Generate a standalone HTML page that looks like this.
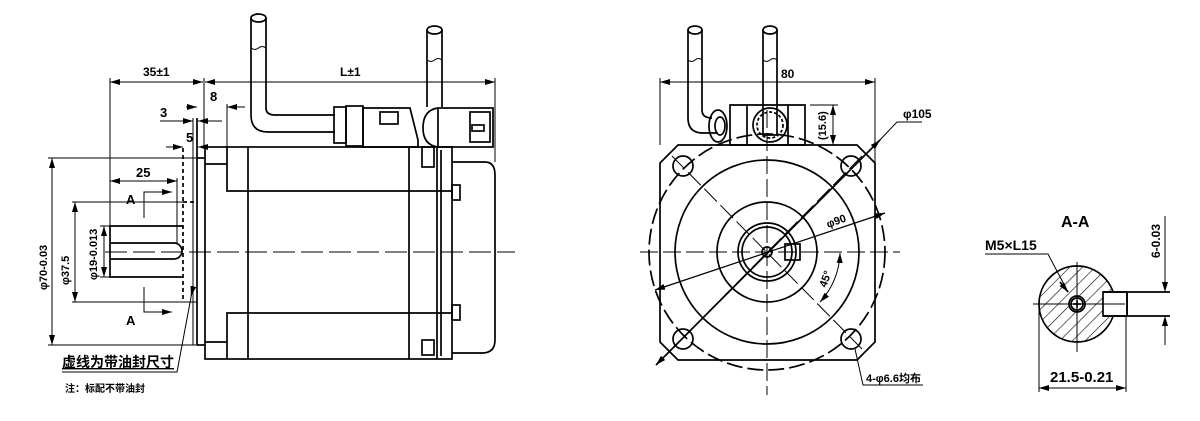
<!DOCTYPE html>
<html><head><meta charset="utf-8"><style>
html,body{margin:0;padding:0;background:#fff;}
svg{display:block;}
text{font-family:"Liberation Sans","Noto Sans CJK SC",sans-serif;font-weight:bold;fill:#000;}
</style></head><body>
<svg width="1200" height="421" viewBox="0 0 1200 421" xmlns="http://www.w3.org/2000/svg">
<defs>
<marker id="a" viewBox="0 0 10 6" refX="10" refY="3" markerWidth="10" markerHeight="6" orient="auto-start-reverse" markerUnits="userSpaceOnUse"><path d="M0,0L10,3L0,6z" fill="#000"/></marker>
<pattern id="h" width="9" height="9" patternUnits="userSpaceOnUse" patternTransform="rotate(45)"><line x1="0" y1="0" x2="0" y2="9" stroke="#000" stroke-width="1.2"/></pattern>
</defs>
<g fill="none" stroke="#000" stroke-width="1.7">
<rect x="205" y="147" width="247" height="212"/>
<line x1="197" y1="118" x2="197" y2="345"/>
<line x1="197" y1="158" x2="205" y2="158"/><line x1="197" y1="345" x2="205" y2="345"/>
<polyline points="227,147 227,191 452,191"/>
<polyline points="227,359 227,313 452,313"/>
<line x1="205" y1="164" x2="227" y2="164"/><line x1="205" y1="342" x2="227" y2="342"/>
<line x1="248" y1="147" x2="248" y2="359"/>
<line x1="409" y1="147" x2="409" y2="359"/>
<line x1="437" y1="147" x2="437" y2="359"/>
<path d="M452,162 H485 Q495,162 495,175 V340 Q495,353 482,353 H452"/>
<rect x="422" y="147" width="12" height="20"/><rect x="422" y="340" width="12" height="15"/>
<rect x="452" y="185" width="8" height="15"/><rect x="452" y="305" width="8" height="15"/>
<line x1="441" y1="150" x2="441" y2="356"/>
<path d="M183,226 H110 V277 H183"/>
<path d="M110,243 H174 A8,8 0 0 1 174,259 H110"/>
<line x1="105" y1="252" x2="515" y2="252" stroke-dasharray="22,6" stroke-width="1"/>
<line x1="183" y1="148" x2="183" y2="302" stroke-dasharray="4,3"/>
<line x1="183" y1="202" x2="197" y2="202" stroke-dasharray="4,3"/>
<line x1="183" y1="302" x2="197" y2="302" stroke-width="1"/>
<line x1="110" y1="78" x2="110" y2="226" stroke-width="1"/>
<line x1="204" y1="78" x2="204" y2="147" stroke-width="1"/>
<line x1="495" y1="78" x2="495" y2="162" stroke-width="1"/>
<line x1="110" y1="82" x2="203" y2="82" marker-start="url(#a)" marker-end="url(#a)" stroke-width="1"/>
<line x1="205" y1="82" x2="495" y2="82" marker-start="url(#a)" marker-end="url(#a)" stroke-width="1"/>
<line x1="186" y1="107" x2="197" y2="107" marker-end="url(#a)" stroke-width="1"/>
<line x1="245" y1="107" x2="227" y2="107" marker-end="url(#a)" stroke-width="1"/>
<line x1="227" y1="104" x2="227" y2="147" stroke-width="1"/>
<line x1="160" y1="121" x2="193" y2="121" marker-end="url(#a)" stroke-width="1"/>
<line x1="222" y1="121" x2="198" y2="121" marker-end="url(#a)" stroke-width="1"/>
<line x1="193" y1="118" x2="193" y2="345" stroke-width="1"/>
<line x1="166" y1="147" x2="183" y2="147" marker-end="url(#a)" stroke-width="1"/>
<line x1="215" y1="147" x2="198" y2="147" marker-end="url(#a)" stroke-width="1"/>
<line x1="110" y1="181" x2="177" y2="181" marker-start="url(#a)" marker-end="url(#a)" stroke-width="1"/>
<line x1="177" y1="178" x2="177" y2="243" stroke-width="1"/>
<line x1="48" y1="158" x2="197" y2="158" stroke-width="1"/>
<line x1="48" y1="345" x2="197" y2="345" stroke-width="1"/>
<line x1="52" y1="158" x2="52" y2="345" marker-start="url(#a)" marker-end="url(#a)" stroke-width="1"/>
<line x1="72" y1="202" x2="183" y2="202" stroke-width="1"/>
<line x1="72" y1="302" x2="183" y2="302" stroke-width="1"/>
<line x1="75" y1="202" x2="75" y2="302" marker-start="url(#a)" marker-end="url(#a)" stroke-width="1"/>
<line x1="100" y1="226" x2="110" y2="226" stroke-width="1"/><line x1="100" y1="277" x2="110" y2="277" stroke-width="1"/>
<line x1="104" y1="226" x2="104" y2="277" marker-start="url(#a)" marker-end="url(#a)" stroke-width="1"/>
<polyline points="144,218 144,192 172,192" marker-end="url(#a)" stroke-width="1"/>
<polyline points="144,287 144,312 172,312" marker-end="url(#a)" stroke-width="1"/>
<polyline points="192,292 177,372 62,372" stroke-width="1"/>
<line x1="192" y1="292" x2="191" y2="296" marker-end="url(#a)" stroke-width="1"/>
<path d="M251,18 V115 Q251,132 268,132 H335 M266,18 V108 Q266,115 275,115 H335"/>
<ellipse cx="258.5" cy="18" rx="7.5" ry="4"/>
<path d="M251,48 q4,3 7.5,0 t7.5,0" stroke-width="1"/>
<path d="M427,30 V107 M442,30 V107"/>
<ellipse cx="434.5" cy="30" rx="7.5" ry="4"/>
<path d="M427,60 q4,3 7.5,0 t7.5,0" stroke-width="1"/>
<rect x="334" y="107" width="12" height="36"/>
<rect x="346" y="106" width="17" height="40"/>
<path d="M363,108 H410 L418,140 V147 H363z"/>
<rect x="380" y="112" width="18" height="12"/>
<path d="M438,108 Q423,110 423,128 Q423,145 438,147"/>
<rect x="438" y="108" width="55" height="39"/>
<rect x="470" y="112" width="20" height="30"/><rect x="472" y="125" width="12" height="6"/>
<path d="M678,145 H857 L875,163 V342 L857,360 H678 L660,342 V163z"/>
<circle cx="767" cy="252" r="118" stroke-dasharray="16,5"/>
<circle cx="767" cy="252" r="92"/>
<circle cx="767" cy="252" r="50"/>
<circle cx="767" cy="252" r="29"/>
<circle cx="767" cy="252" r="25"/>
<circle cx="767" cy="252" r="5"/>
<circle cx="683" cy="166" r="10"/><circle cx="851" cy="166" r="10"/>
<circle cx="683" cy="339" r="10"/><circle cx="851" cy="339" r="10"/>
<line x1="640" y1="252" x2="900" y2="252" stroke-dasharray="18,5" stroke-width="1"/>
<line x1="767" y1="110" x2="767" y2="395" stroke-dasharray="18,5" stroke-width="1"/>
<line x1="672" y1="156" x2="862" y2="349" stroke-dasharray="18,5" stroke-width="1"/>
<line x1="862" y1="156" x2="672" y2="349" stroke-dasharray="18,5" stroke-width="1"/>
<line x1="656" y1="365" x2="880" y2="140" marker-start="url(#a)" marker-end="url(#a)"/>
<polyline points="877,143 897,122 922,122" stroke-width="1"/>
<line x1="655" y1="290" x2="885" y2="213" marker-start="url(#a)" marker-end="url(#a)" stroke-width="1.2"/>
<rect x="785" y="244" width="15" height="16"/>
<path d="M840,253 A75,75 0 0 1 820,302" marker-start="url(#a)" marker-end="url(#a)" stroke-width="1"/>
<line x1="660" y1="78" x2="660" y2="145" stroke-width="1"/>
<line x1="875" y1="78" x2="875" y2="163" stroke-width="1"/>
<line x1="660" y1="82" x2="875" y2="82" marker-start="url(#a)" marker-end="url(#a)" stroke-width="1"/>
<line x1="810" y1="105" x2="838" y2="105" stroke-width="1"/>
<line x1="833" y1="105" x2="833" y2="145" marker-start="url(#a)" marker-end="url(#a)" stroke-width="1"/>
<polyline points="855,349 863,385 923,385" stroke-width="1"/>
<path d="M688,30 V118 Q688,133 703,133 H718 M702,30 V110 Q702,118 712,118"/>
<ellipse cx="695" cy="30" rx="7" ry="4"/>
<path d="M688,60 q3.5,3 7,0 t7,0" stroke-width="1"/>
<ellipse cx="718" cy="126" rx="9" ry="16"/>
<ellipse cx="720" cy="126" rx="5" ry="9"/>
<path d="M730,105 H805 V145 H730z"/>
<line x1="747" y1="105" x2="747" y2="145"/><line x1="788" y1="105" x2="788" y2="145"/>
<circle cx="770" cy="125" r="17"/><circle cx="770" cy="125" r="13" stroke-dasharray="3,2"/>
<path d="M763,30 V135 H777 V30"/>
<ellipse cx="770" cy="30" rx="7" ry="4"/>
<path d="M763,60 q3.5,3 7,0 t7,0" stroke-width="1"/>
<circle cx="1077" cy="304" r="38" fill="url(#h)"/>
<rect x="1103" y="292" width="24" height="24" fill="#fff"/>
<path d="M1103,292 H1170 M1103,316 H1170 M1127,292 V316"/>
<circle cx="1077" cy="304" r="8" fill="#fff"/>
<circle cx="1077" cy="304" r="6"/>
<line x1="1033" y1="304" x2="1125" y2="304" stroke-width="1"/>
<line x1="1077" y1="262" x2="1077" y2="352" stroke-width="1"/>
<line x1="1073" y1="304" x2="1081" y2="304"/><line x1="1077" y1="300" x2="1077" y2="308"/>
<polyline points="985,254 1048,254 1068,292" stroke-width="1"/>
<line x1="1060" y1="282" x2="1068" y2="292" marker-end="url(#a)"/>
<line x1="1039" y1="306" x2="1039" y2="392" stroke-width="1"/>
<line x1="1126" y1="316" x2="1126" y2="392" stroke-width="1"/>
<line x1="1039" y1="388" x2="1126" y2="388" marker-start="url(#a)" marker-end="url(#a)" stroke-width="1"/>
<line x1="1165" y1="216" x2="1165" y2="292" marker-end="url(#a)" stroke-width="1"/>
<line x1="1165" y1="345" x2="1165" y2="316" marker-end="url(#a)" stroke-width="1"/>
</g>
<g font-size="13">
<text x="143" y="76" font-size="12">35±1</text>
<text x="340" y="76" font-size="12">L±1</text>
<text x="210" y="101">8</text>
<text x="160" y="117">3</text>
<text x="186" y="142">5</text>
<text x="136" y="177">25</text>
<text x="126" y="204">A</text>
<text x="126" y="325">A</text>
<text x="0" y="0" transform="translate(47,290) rotate(-90)" font-size="11">φ70-0.03</text>
<text x="0" y="0" transform="translate(69,285) rotate(-90)" font-size="11">φ37.5</text>
<text x="0" y="0" transform="translate(97,280) rotate(-90)" font-size="11">φ19-0.013</text>
<text x="62" y="367" font-size="14" font-family="Noto Sans CJK SC,sans-serif" text-decoration="underline">虚线为带油封尺寸</text>
<text x="65" y="392" font-size="10" font-family="Noto Sans CJK SC,sans-serif">注：标配不带油封</text>
<text x="781" y="78" font-size="12">80</text>
<text x="0" y="0" transform="translate(826,140) rotate(-90)" font-size="11">(15.6)</text>
<text x="903" y="118" font-size="12">φ105</text>
<text x="0" y="0" transform="translate(828,228) rotate(-20)" font-size="11">φ90</text>
<text x="0" y="0" transform="translate(826,288) rotate(-70)" font-size="11">45°</text>
<text x="866" y="382" font-size="11" font-family="Liberation Sans,Noto Sans CJK SC,sans-serif">4-φ6.6均布</text>
<text x="1061" y="227" font-size="16" font-weight="normal">A-A</text>
<text x="985" y="250" font-size="14" font-weight="normal">M5×L15</text>
<text x="1050" y="382" font-size="15" font-weight="normal">21.5-0.21</text>
<text x="0" y="0" transform="translate(1160,258) rotate(-90)" font-size="12" font-weight="normal">6-0.03</text>
</g>
</svg>
</body></html>
